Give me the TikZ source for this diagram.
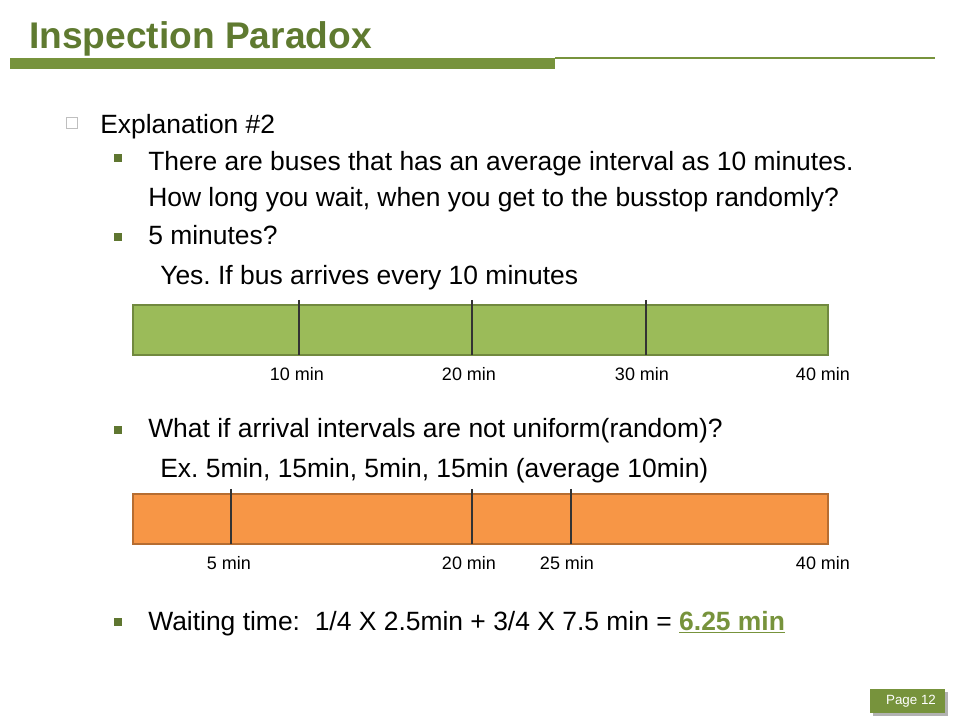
\documentclass[tikz,border=0pt]{standalone}
\usepackage{fontspec}
\setmainfont{Liberation Sans}
\usepackage{tikz}
\usetikzlibrary{positioning}
\frenchspacing

\definecolor{olive}{HTML}{77933C}
\definecolor{titlegreen}{HTML}{5F7A30}
\definecolor{bargreen}{HTML}{9BBB59}
\definecolor{bargreenline}{HTML}{71893F}
\definecolor{barorange}{HTML}{F79646}
\definecolor{barorangeline}{HTML}{B66D31}

\begin{document}
\begin{tikzpicture}[x=0.025cm,y=-0.025cm,
                    body/.style={anchor=base west,inner sep=0pt,font=\fontsize{18.8}{22}\selectfont},
                    minlabel/.style={anchor=base,inner sep=0pt,font=\fontsize{12.8}{15}\selectfont},
                    subbullet/.style={fill=olive!80!black,minimum size=5pt,inner sep=0pt},
                    tick/.style={draw=black!80,line width=0.9pt}]
	\useasboundingbox (0,0) rectangle (960,720);

	% title bar
	\node[anchor=base west,inner sep=0pt,text=titlegreen,font=\fontsize{26.4}{30}\selectfont\bfseries] (title) at (29,49) {Inspection Paradox};
	\fill[olive] (10,58) rectangle (555,69);
	\draw[olive,line width=0.8pt] (555,58) -- (935,58);

	% bullets
	\node[draw=black!25,minimum size=8pt,inner sep=0pt,line width=0.5pt] (b0) at (72,123) {};
	\node[body] (t0) at (100,134) {Explanation \#2};
	\node[subbullet] (b1) at (118,158) {};
	\node[body] (t1) at (148,171) {There are buses that has an average interval as 10 minutes.};
	\node[body] (t1b) at (148,207) {How long you wait, when you get to the busstop randomly?};
	\node[subbullet] (b2) at (118,237) {};
	\node[body] (t2) at (148,245) {5 minutes?};
	\node[body] (t2b) at (160,285) {Yes. If bus arrives every 10 minutes};

	% uniform bar
	\draw[fill=bargreen,draw=bargreenline,line width=1.8pt] (133,305) rectangle (828,355);
	\foreach \tx in {299,472,646}
		\draw[tick] (\tx,300) -- (\tx,355);
	\node[minlabel] (u1) at (297,381) {10 min};
	\node[minlabel] (u2) at (469,381) {20 min};
	\node[minlabel] (u3) at (642,381) {30 min};
	\node[minlabel] (u4) at (823,381) {40 min};

	\node[subbullet] (b3) at (118,430) {};
	\node[body] (t3) at (148,438) {What if arrival intervals are not uniform(random)?};
	\node[body] (t3b) at (160,478) {Ex. 5min, 15min, 5min, 15min (average 10min)};

	% random bar
	\draw[fill=barorange,draw=barorangeline,line width=1.8pt] (133,494) rectangle (828,544);
	\foreach \tx in {231,472,571}
		\draw[tick] (\tx,489) -- (\tx,544);
	\node[minlabel] (r1) at (229,569) {5 min};
	\node[minlabel] (r2) at (469,569) {20 min};
	\node[minlabel] (r3) at (567,569) {25 min};
	\node[minlabel] (r4) at (823,569) {40 min};

	\node[subbullet] (b4) at (118,622) {};
	\node[body] (t4) at (148,630) {Waiting time:\ \ 1/4 X 2.5min + 3/4 X 7.5 min = \textcolor{olive}{\bfseries\underline{6.25 min}}};

	% page number
	\fill[black!30] (873,692) rectangle (948,716);
	\fill[olive] (870,689) rectangle (945,713);
	\node[text=white,inner sep=0pt,font=\fontsize{9.5}{11}\selectfont] (page) at (911,701) {Page 12};
\end{tikzpicture}
\end{document}
